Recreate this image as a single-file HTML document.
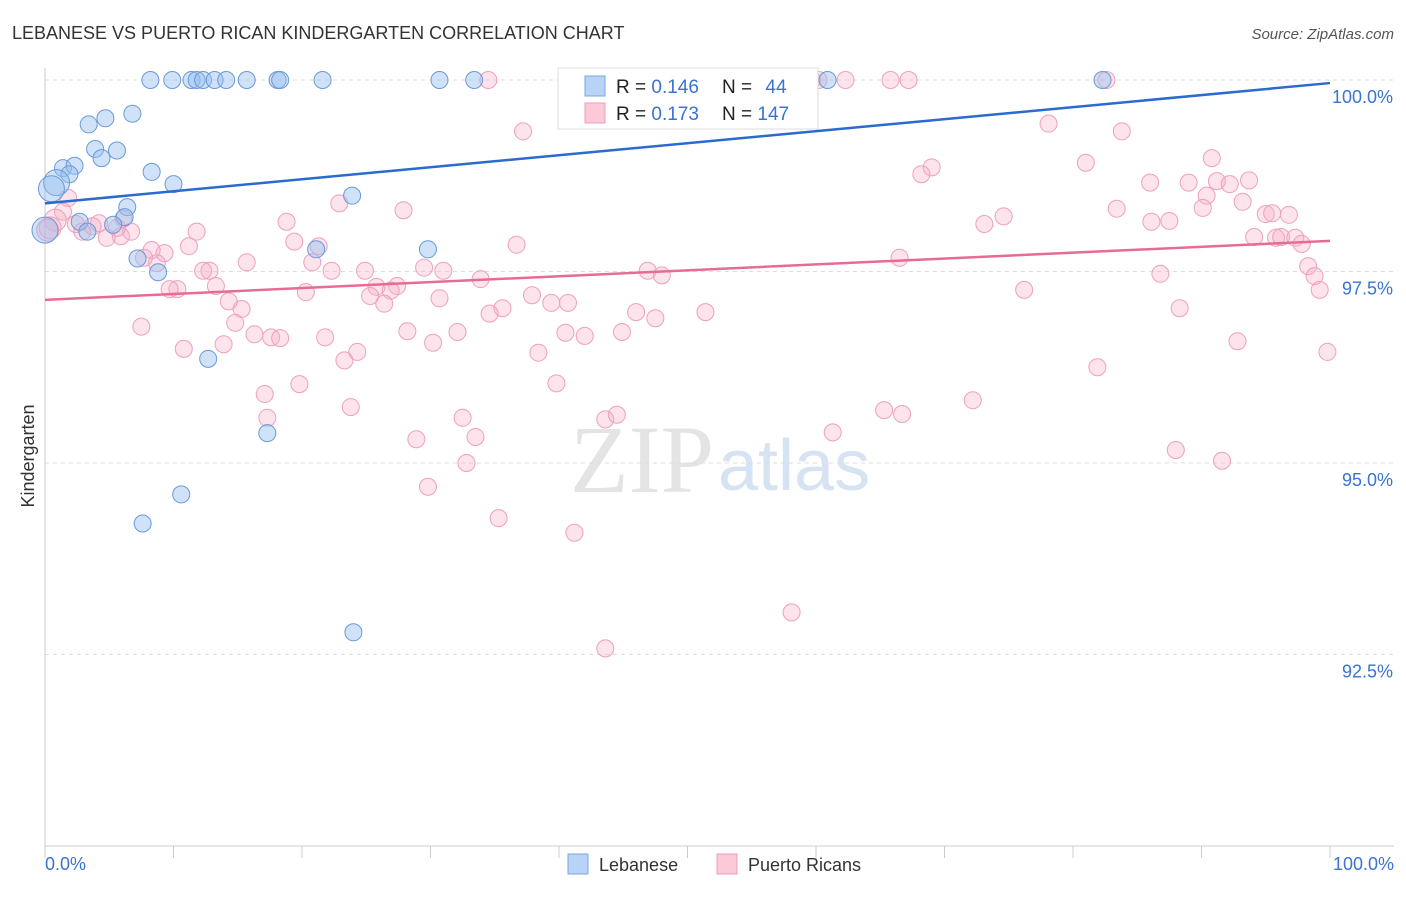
<!DOCTYPE html>
<html><head><meta charset="utf-8"><style>
body{margin:0;background:#fff;font-family:"Liberation Sans",sans-serif}
</style></head><body>
<svg id="c" width="1406" height="892" xmlns="http://www.w3.org/2000/svg">
<text x="12" y="39" font-size="18" fill="#333">LEBANESE VS PUERTO RICAN KINDERGARTEN CORRELATION CHART</text>
<text x="1394" y="39" font-size="15" fill="#555" font-style="italic" text-anchor="end">Source: ZipAtlas.com</text>
<text x="714" y="492" font-size="96" fill="#e4e4e4" text-anchor="end" font-family="Liberation Serif">ZIP</text>
<text x="718" y="490" font-size="72" fill="#d6e3f3">atlas</text>
<text transform="translate(34,456) rotate(-90)" font-size="18" fill="#333" text-anchor="middle">Kindergarten</text>
<g id="grid"></g><g id="pts"></g><g id="lines"></g>
<g>
<rect x="558" y="68" width="260" height="61" fill="#fff" stroke="#ddd"/>
<rect x="585" y="76" width="20" height="20" fill="#b8d3f5" stroke="#7aa7e0"/>
<rect x="585" y="103" width="20" height="20" fill="#fbc9d8" stroke="#ef9fb8"/>
<text x="616" y="93" font-size="19" fill="#222">R = <tspan fill="#3a73d0">0.146</tspan></text>
<text x="722" y="93" font-size="19" fill="#222">N = <tspan fill="#3a73d0" dx="8">44</tspan></text>
<text x="616" y="120" font-size="19" fill="#222">R = <tspan fill="#3a73d0">0.173</tspan></text>
<text x="722" y="120" font-size="19" fill="#222">N = <tspan fill="#3a73d0">147</tspan></text>
</g>
<text x="45" y="870" font-size="18" fill="#3a73d0">0.0%</text>
<text x="1394" y="870" font-size="18" fill="#3a73d0" text-anchor="end">100.0%</text>
<rect x="568" y="854" width="20" height="20" fill="#b8d3f5" stroke="#7aa7e0"/>
<text x="599" y="871" font-size="18" fill="#333">Lebanese</text>
<rect x="717" y="854" width="20" height="20" fill="#fbc9d8" stroke="#ef9fb8"/>
<text x="748" y="871" font-size="18" fill="#333">Puerto Ricans</text>
</svg>
<script>
const yTicks=[100,97.5,95,92.5];
const yTickLabels=["100.0%","97.5%","95.0%","92.5%"];
const xTicks=[0,10,20,30,40,50,60,70,80,90,100];
const lebX=[8.2,9.9,11.4,11.8,12.3,13.2,14.1,15.7,18.1,18.3,21.6,30.7,33.4,60.9,82.3,6.8,4.7,3.4,3.9,5.6,4.4,1.4,2.3,1.9,8.3,10.0,0.9,0.5,6.4,23.9,6.2,5.3,2.7,3.3,0,29.8,21.1,7.2,8.8,12.7,17.3,10.6,7.6,24.0];
const lebY=[100,100,100,100,100,100,100,100,100,100,100,100,100,100,100,99.56,99.50,99.42,99.10,99.08,98.98,98.85,98.88,98.77,98.80,98.64,98.66,98.58,98.34,98.49,98.21,98.11,98.15,98.02,98.04,97.79,97.79,97.67,97.49,96.36,95.39,94.59,94.21,92.79];
const prX=[49.4,53.5,59.7,60.2,62.3,65.8,67.2,82.6,34.5,37.2,78.1,83.8,81.0,90.8,69.0,68.2,86.0,89.0,91.2,92.2,93.7,90.4,93.2,83.4,90.1,95.0,95.5,96.8,74.6,73.1,86.1,87.5,94.1,95.8,96.2,97.3,97.8,98.3,98.8,99.2,86.8,76.2,88.3,92.8,99.8,81.9,72.2,65.3,66.7,61.3,88.0,91.6,58.1,66.5,48.0,46.9,51.4,47.5,46.0,44.9,42.0,40.5,40.7,39.4,37.9,35.6,34.6,33.9,31.0,29.5,30.7,32.1,30.2,28.2,27.4,26.9,25.8,26.4,25.3,24.9,24.3,23.3,22.3,21.8,20.8,20.3,19.4,21.3,18.8,17.6,18.3,17.1,17.3,19.8,22.9,27.9,36.7,38.4,39.8,32.5,33.5,32.8,28.9,29.8,35.3,41.2,43.6,43.6,44.5,23.8,16.3,15.3,14.8,14.3,15.7,13.9,12.8,12.3,13.3,11.8,11.2,10.8,10.3,9.7,9.3,8.7,8.3,7.7,7.5,6.7,5.9,6.1,5.6,4.8,4.2,3.7,2.9,2.4,1.8,1.4,0.8,0.4,0.2];
const prY=[100,100,100,100,100,100,100,100,100,99.33,99.43,99.33,98.92,98.98,98.86,98.77,98.66,98.66,98.68,98.64,98.69,98.49,98.41,98.32,98.33,98.25,98.26,98.24,98.22,98.12,98.15,98.16,97.95,97.94,97.95,97.94,97.86,97.57,97.44,97.26,97.47,97.26,97.02,96.59,96.45,96.25,95.82,95.69,95.64,95.40,95.17,95.03,93.05,97.68,97.45,97.51,96.97,96.89,96.97,96.71,96.66,96.70,97.09,97.09,97.19,97.02,96.95,97.40,97.51,97.55,97.15,96.71,96.57,96.72,97.31,97.25,97.30,97.08,97.18,97.51,96.45,96.34,97.51,96.64,97.62,97.23,97.89,97.83,98.15,96.64,96.63,95.90,95.59,96.03,98.39,98.30,97.85,96.44,96.04,95.59,95.34,95.00,95.31,94.69,94.28,94.09,92.58,95.57,95.63,95.73,96.68,97.01,96.83,97.11,97.62,96.55,97.51,97.51,97.31,98.02,97.83,96.49,97.27,97.27,97.74,97.61,97.78,97.68,96.78,98.02,97.96,98.19,98.07,97.94,98.13,98.09,98.02,98.12,98.46,98.28,98.17,98.07,98.04];
const lebTrend=[98.39,99.96];
const prTrend=[97.13,97.90];
const X=v=>45+v/100*1285;
const Y=v=>80+(100-v)*76.6;
const NS="http://www.w3.org/2000/svg";
function mk(p,t,a){const e=document.createElementNS(NS,t);for(const k in a)e.setAttribute(k,a[k]);p.appendChild(e);return e;}
const grid=document.getElementById('grid');
yTicks.forEach((t,i)=>{
 const l=mk(grid,'line',{x1:45,x2:1394,y1:Y(t),y2:Y(t),stroke:'#ddd','stroke-dasharray':'4,4'});
 
 
 const tx=mk(grid,'text',{x:1393,y:Y(t)+23,'font-size':18,fill:'#3a73d0','text-anchor':'end'});
 tx.textContent=yTickLabels[i];
 
 
});
const ax=mk(grid,'line',{x1:45,x2:1394,y1:Y(90),y2:Y(90),stroke:'#ccc'});


const ay=mk(grid,'line',{x1:45,x2:45,y1:68,y2:Y(90),stroke:'#ccc'});


xTicks.forEach(t=>{
 const l=mk(grid,'line',{x1:X(t),x2:X(t),y1:Y(90),y2:Y(90)+12,stroke:'#ccc'});
 
 
});
const pts=document.getElementById('pts');
prX.forEach((v,i)=>{
 const c=mk(pts,'circle',{cx:X(v),cy:Y(prY[i]),r:v<1?11:8.5,fill:'rgba(246,176,200,0.35)',stroke:'#eea0bb','stroke-width':1});
 
 
});
lebX.forEach((v,i)=>{
 const c=mk(pts,'circle',{cx:X(v),cy:Y(lebY[i]),r:v<1?13:8.5,fill:'rgba(150,190,240,0.45)',stroke:'#6a9ad8','stroke-width':1});
 
 
});
const lines=document.getElementById('lines');
const bl=mk(lines,'line',{x1:X(0),x2:X(100),y1:Y(lebTrend[0]),y2:Y(lebTrend[1]),stroke:'#2a6bd0','stroke-width':2.5});


const pl=mk(lines,'line',{x1:X(0),x2:X(100),y1:Y(prTrend[0]),y2:Y(prTrend[1]),stroke:'#e86b96','stroke-width':2.5});


</script>
</body></html>
